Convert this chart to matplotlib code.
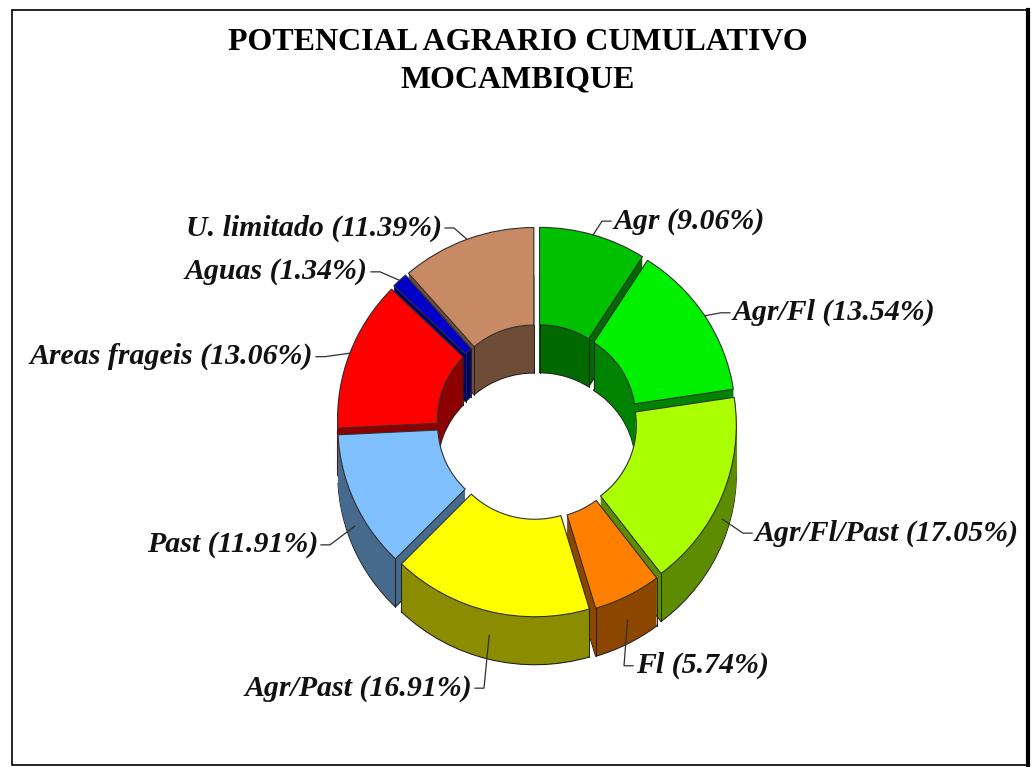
import numpy as np
import matplotlib
matplotlib.use("Agg")
import matplotlib.pyplot as plt
from matplotlib.colors import to_rgb
from matplotlib.patches import Rectangle
from matplotlib.lines import Line2D

# data
categories = ["Agr", "Agr/Fl", "Agr/Fl/Past", "Fl", "Agr/Past", "Past",
              "Areas frageis", "Aguas", "U. limitado"]
shares = [9.06, 13.54, 17.05, 5.74, 16.91, 11.91, 13.06, 1.34, 11.39]
top_colors = ["#00c000", "#00f000", "#aaff00", "#ff8000", "#ffff00",
              "#80c0ff", "#ff0000", "#0000c8", "#c88a64"]

# where each label sits (data units, centre of donut = 0,0)
label_pos = [(0.385, 1.03), (0.98, 0.56), (1.09, -0.57), (0.495, -1.25),
             (-0.325, -1.365), (-1.095, -0.63), (-1.12, 0.335),
             (-0.845, 0.77), (-0.475, 0.995)]

R_OUT = 0.955
RING = 0.50
EXPLODE = 0.045
DEPTH = 0.246
N_LAYERS = 50

side_colors = [tuple(c * 0.55 for c in to_rgb(col)) for col in top_colors]

fig = plt.figure(figsize=(10.36, 7.67), dpi=100)
ax = fig.add_axes([0, 0, 1, 1])

# 3D look: stack darker copies of the ring downwards, then the top face
dz = DEPTH / N_LAYERS
for k in range(N_LAYERS, 0, -1):
    edge = "#202020" if k == N_LAYERS else "none"
    ax.pie(shares, explode=[EXPLODE] * len(shares), colors=side_colors,
           startangle=90, counterclock=False, radius=R_OUT,
           center=(0, -k * dz),
           wedgeprops=dict(width=RING, edgecolor=edge, linewidth=0.8))

ax.pie(shares, explode=[EXPLODE] * len(shares), colors=top_colors,
       startangle=90, counterclock=False, radius=R_OUT, center=(0, 0),
       wedgeprops=dict(width=RING, edgecolor="#303030", linewidth=0.8))

cum = np.cumsum([0] + shares[:-1])

# vertical edges of the walls at the slice corners
for i in range(len(shares)):
    a1 = np.deg2rad(90 - 360 * cum[i] / 100.0)
    a2 = np.deg2rad(90 - 360 * (cum[i] + shares[i]) / 100.0)
    am = (a1 + a2) / 2
    ox, oy = EXPLODE * np.cos(am), EXPLODE * np.sin(am)
    for a in (a1, a2):
        if np.sin(a) < -0.1:
            x, y = ox + R_OUT * np.cos(a), oy + R_OUT * np.sin(a)
            ax.add_line(Line2D([x, x], [y, y - DEPTH], color="#202020", lw=0.7))
        elif np.sin(a) > 0.4:
            rin = R_OUT - RING
            x, y = ox + rin * np.cos(a), oy + rin * np.sin(a)
            ax.add_line(Line2D([x, x], [y, y - DEPTH], color="#202020", lw=0.7))

# labels with leader lines
px_x = 1 / 200.0
for i, name in enumerate(categories):
    mid = np.deg2rad(90 - 360 * (cum[i] + shares[i] / 2) / 100.0)
    r = R_OUT + EXPLODE
    sx, sy = r * np.cos(mid), r * np.sin(mid)
    if np.sin(mid) < 0:
        sy -= DEPTH / 2
    tx, ty = label_pos[i]
    side = 1 if tx > 0 else -1
    ax.add_line(Line2D([sx, tx - side * 12 * px_x, tx - side * 3 * px_x],
                       [sy, ty, ty], color="#303030", lw=0.9))
    ax.text(tx, ty, f"{name} ({shares[i]:.2f}%)",
            ha="left" if side > 0 else "right", va="center",
            family="Liberation Serif", weight="bold", style="italic",
            fontsize=21.5, color="#111111")

ax.set_aspect("auto")
ax.set_xlim(-537 / 200, (1036 - 537) / 200)
ax.set_ylim((422 - 767) / 195, 422 / 195)
ax.axis("off")

fig.text(0.5, 1 - 28 / 767, "POTENCIAL AGRARIO CUMULATIVO\nMOCAMBIQUE",
         ha="center", va="top", family="Liberation Serif", weight="bold",
         fontsize=23, linespacing=1.38)

# frame round the chart area
fig.add_artist(Rectangle((12 / 1036, 2 / 767), 1015 / 1036, 755 / 767,
                         transform=fig.transFigure, fill=False,
                         edgecolor="black", linewidth=1.2))
fig.add_artist(Line2D([1028 / 1036, 1028 / 1036], [2 / 767, 757 / 767],
                      transform=fig.transFigure, color="black", lw=3))

fig.savefig("out.png", dpi=100)
